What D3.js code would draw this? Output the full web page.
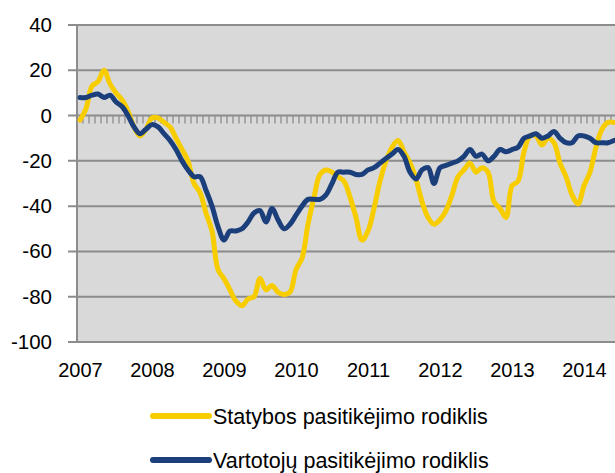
<!DOCTYPE html>
<html>
<head>
<meta charset="utf-8">
<script src="https://cdn.jsdelivr.net/npm/d3@7"></script>
<style>
  body { margin: 0; background: #fff; }
  svg text { font-family: "Liberation Sans", Arial, sans-serif; fill: #000; }
</style>
</head>
<body>
<svg width="615" height="473"></svg>
<script>
// menesiniai duomenys nuo 2007-01 iki 2014-06
let years = ["2007", "2008", "2009", "2010", "2011", "2012", "2013", "2014"];
let yTicks = [40, 20, 0, -20, -40, -60, -80, -100];
let seriesNames = ["Statybos pasitikėjimo rodiklis", "Vartotojų pasitikėjimo rodiklis"];

let statybos = [-2, 3, 13, 15, 20, 14, 10, 7, 2, -5, -9, -6, -1, -1, -3, -5, -10, -15, -20, -30,
  -34, -43, -51, -68, -72, -77, -82, -84, -81, -80, -72, -77, -75, -78, -79, -78, -68, -63, -48, -36,
  -26, -24, -25, -27, -29, -36, -45, -55, -51, -41, -29, -20, -14, -11, -16, -21, -28, -38, -45, -48,
  -46, -42, -35, -27, -24, -21, -25, -23, -25, -38, -41, -45, -31, -29, -16, -9, -9, -13, -10, -12,
  -21, -27, -35, -39, -31, -25, -14, -6, -3, -3];

let vartotoju = [8, 8, 9, 9.5, 8, 9, 6, 4, 0, -5, -8, -6, -4, -5, -8, -11, -15, -20, -24, -27,
  -27, -33, -40, -49, -55, -51, -51, -50, -47, -43, -42, -47, -41, -46, -50, -48, -44, -40, -37, -37,
  -37, -35, -30, -25, -25, -25, -26, -26, -24, -23, -21, -19, -17, -15, -18, -25, -28, -24, -23, -30,
  -23, -22, -21, -20, -18, -15, -18, -17, -20, -18, -15, -16, -15, -14, -10, -9, -8, -10, -9, -7,
  -10, -12, -12, -9, -9, -10, -12, -12, -12, -11];

let colors = ["#f7cd00", "#1b3f7b"];

let svg = d3.select("svg");
let plotLeft = 77, plotTop = 25, plotBottom = 342, step = 6;
let n = statybos.length;

// x: menesio indeksas -> kategorijos centras
let x = d3.scaleLinear().domain([-0.5, n - 0.5]).range([plotLeft, plotLeft + n * step]);
let y = d3.scaleLinear().domain([-100, 40]).range([plotBottom, plotTop]);

// pilkas fonas
svg.append("rect")
    .attr("x", plotLeft).attr("y", plotTop)
    .attr("width", x(n - 0.5) - plotLeft).attr("height", plotBottom - plotTop)
    .attr("fill", "#d9d9d9");

// horizontalios linijos
svg.append("g")
    .selectAll("line")
    .data(yTicks)
    .enter()
    .append("line")
    .attr("x1", plotLeft - 9).attr("x2", x(n - 0.5))
    .attr("y1", d => y(d)).attr("y2", d => y(d))
    .attr("stroke", "#8c8c8c")
    .attr("stroke-width", 2);

// y asis (paprastas minuso zenklas)
let yAxis = svg.append("g")
    .attr("transform", "translate(" + plotLeft + ",0)")
    .call(d3.axisLeft(y).tickValues(yTicks).tickFormat(d => String(d)).tickSize(0).tickPadding(25));
yAxis.select(".domain").remove();
yAxis.selectAll("text").style("font-size", "20.5px");

svg.append("line")
    .attr("x1", plotLeft).attr("x2", plotLeft)
    .attr("y1", plotTop).attr("y2", plotBottom)
    .attr("stroke", "#8c8c8c")
    .attr("stroke-width", 2);

// menesiu bruksneliai ant nulio linijos
svg.append("g")
    .selectAll("line")
    .data(d3.range(n + 1))
    .enter()
    .append("line")
    .attr("x1", d => x(d - 0.5)).attr("x2", d => x(d - 0.5))
    .attr("y1", y(0)).attr("y2", y(0) + 8)
    .attr("stroke", "#8c8c8c")
    .attr("stroke-width", 1.3);

// x asis su metais
let xAxis = svg.append("g")
    .attr("transform", "translate(0," + plotBottom + ")")
    .call(d3.axisBottom(x)
        .tickValues(years.map((d, i) => i * 12))
        .tickFormat((d, i) => years[i])
        .tickSize(0).tickPadding(21));
xAxis.select(".domain").remove();
xAxis.selectAll("text").style("font-size", "20px");

// linijos
let line = d3.line()
    .x((d, i) => x(i))
    .y(d => y(d))
    .curve(d3.curveCatmullRom);

[statybos, vartotoju].forEach(function (s, k) {
    svg.append("path")
        .datum(s)
        .attr("d", line)
        .attr("fill", "none")
        .attr("stroke", colors[k])
        .attr("stroke-width", 5)
        .attr("stroke-linecap", "round")
        .attr("stroke-linejoin", "round");
});

// legenda
let legend = svg.append("g")
    .selectAll("g")
    .data(seriesNames)
    .enter()
    .append("g")
    .attr("transform", (d, i) => "translate(153," + (416 + i * 44) + ")");

legend.append("line")
    .attr("x1", 0).attr("x2", 56)
    .attr("stroke", (d, i) => colors[i])
    .attr("stroke-width", 6)
    .attr("stroke-linecap", "round");

legend.append("text")
    .attr("x", 60)
    .attr("dy", "0.35em")
    .style("font-size", "21.5px")
    .text(d => d);
</script>
</body>
</html>
